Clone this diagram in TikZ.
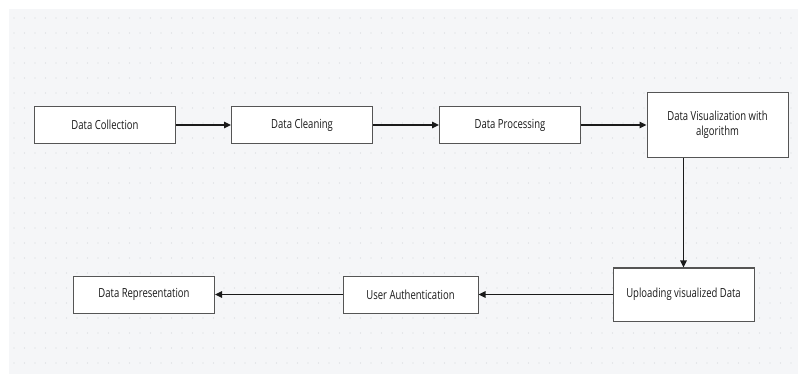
\documentclass[tikz,border=0pt]{standalone}
\usepackage{fontspec}
\setmainfont{Open Sans}
\usepackage{graphicx}
\usetikzlibrary{positioning,arrows.meta}

\definecolor{canvas}{HTML}{F5F6F8}
\definecolor{dotgray}{HTML}{D6D8DC}
\definecolor{boxline}{HTML}{555555}
\definecolor{ink}{HTML}{1A1A1A}

\newcommand{\narrow}[1]{\scalebox{0.76}[1]{#1}}

\begin{document}
\begin{tikzpicture}[x=1pt, y=-1pt, on grid, node distance=200pt,
    font=\fontsize{12.5}{15}\selectfont, text=ink,
    stage/.style={draw=boxline, line width=1pt, fill=white, minimum width=141pt,
      minimum height=37pt, inner sep=2pt, align=center},
    flow/.style={draw=ink, line width=1.3pt, -{Triangle[length=7pt,width=6.5pt]}}]
    \useasboundingbox (0,0) rectangle (798,374);%
    \fill[canvas] (9,9) rectangle (798,374);%
    \foreach \gx in {14,24.5,...,798} \foreach \gy in {18,33,...,374}%
      \fill[dotgray] (\gx,\gy) circle (0.6pt);%
    % top row
    \node[stage] at (105,125) (coll) {\narrow{Data Collection}};%
    \node[stage] (clean) [right=197pt of coll] {\narrow{Data Cleaning}};%
    \node[stage] (proc) [right=208pt of clean] {\narrow{Data Processing}};%
    \node[stage, minimum height=65pt] (vis) [right=207.5pt of proc]
      {\narrow{Data Visualization with}\\\narrow{algorithm}};%
    % bottom row
    \node[stage, minimum height=53pt] (upl) at (683.5,294.5) {\narrow{Uploading visualized Data}};%
    \node[stage, minimum width=135pt] (auth) [left=273pt of upl] {\narrow{User Authentication}};%
    \node[stage] (rep) [left=266.5pt of auth] {\narrow{Data Representation}};%
    \draw[flow] (coll) -- (clean);%
    \draw[flow] (clean) -- (proc);%
    \draw[flow] (proc) -- (vis);%
    \draw[flow] (vis.south -| upl.north) -- (upl);%
    \draw[flow] (upl) -- (auth);%
    \draw[flow] (auth) -- (rep);
  \end{tikzpicture}
\end{document}
